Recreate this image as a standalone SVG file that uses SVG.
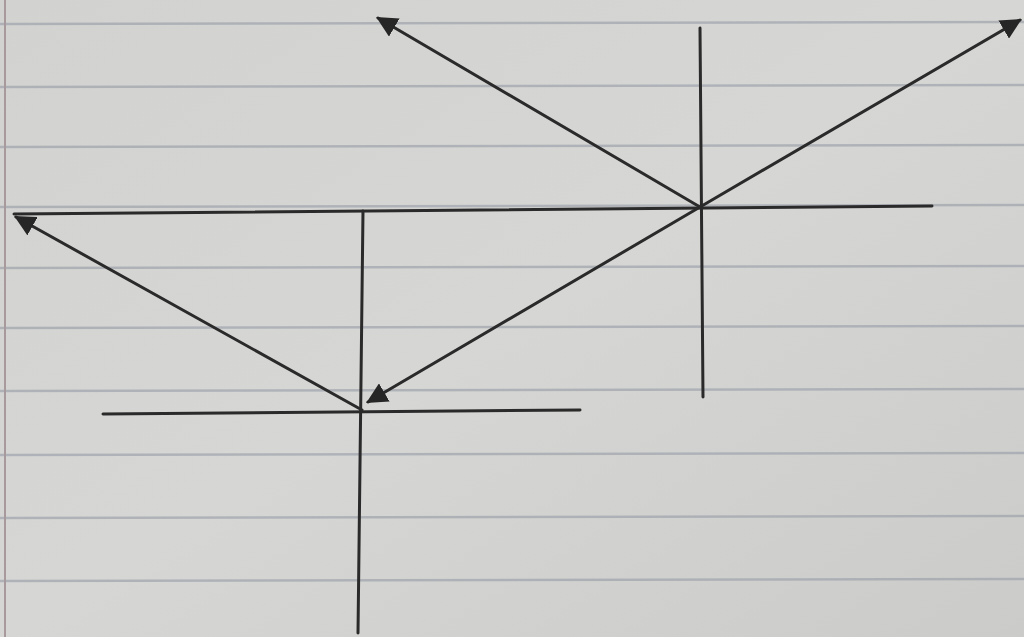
<svg xmlns="http://www.w3.org/2000/svg" width="1024" height="637" viewBox="0 0 1024 637">
<defs>
<linearGradient id="paper" x1="0" y1="0" x2="1" y2="1">
<stop offset="0" stop-color="#d2d3d0"/>
<stop offset="0.5" stop-color="#d6d7d4"/>
<stop offset="1" stop-color="#cbccc9"/>
</linearGradient>
<marker id="ah" viewBox="0 0 10 10" refX="9" refY="5" markerWidth="7" markerHeight="7" markerUnits="strokeWidth" orient="auto">
<path d="M0,0 L10,5 L0,10 z" fill="#262626"/>
</marker>
<style>
.rule{stroke:#9fa4ad;stroke-width:2.5;opacity:0.7}
.ink{stroke:#2a2a2a;stroke-width:3;fill:none;stroke-linecap:round}
</style>
</defs>
<rect width="1024" height="637" fill="url(#paper)"/>
<g id="paper-lines">
<line class="rule" x1="0" y1="24" x2="1024" y2="22"/>
<line class="rule" x1="0" y1="87" x2="1024" y2="85"/>
<line class="rule" x1="0" y1="147" x2="1024" y2="145"/>
<line class="rule" x1="0" y1="207" x2="1024" y2="205"/>
<line class="rule" x1="0" y1="268" x2="1024" y2="266"/>
<line class="rule" x1="0" y1="328" x2="1024" y2="326"/>
<line class="rule" x1="0" y1="391" x2="1024" y2="389"/>
<line class="rule" x1="0" y1="455" x2="1024" y2="453"/>
<line class="rule" x1="0" y1="518" x2="1024" y2="516"/>
<line class="rule" x1="0" y1="581" x2="1024" y2="579"/>
<line x1="5" y1="0" x2="5" y2="637" stroke="#a89a9c" stroke-width="2"/>
</g>
<g id="axes">
<line class="ink" x1="14" y1="214" x2="932" y2="206"/>
<line class="ink" x1="700" y1="28" x2="703" y2="397"/>
<line class="ink" x1="363" y1="211" x2="358" y2="633"/>
<line class="ink" x1="103" y1="414" x2="580" y2="410"/>
</g>
<g id="connectors">
<line class="ink" x1="700" y1="207" x2="378" y2="18" marker-end="url(#ah)"/>
<line class="ink" x1="700" y1="207" x2="1020" y2="20" marker-end="url(#ah)"/>
<line class="ink" x1="700" y1="207" x2="368" y2="402" marker-end="url(#ah)"/>
<line class="ink" x1="362" y1="410" x2="16" y2="217" marker-end="url(#ah)"/>
</g>
</svg>
